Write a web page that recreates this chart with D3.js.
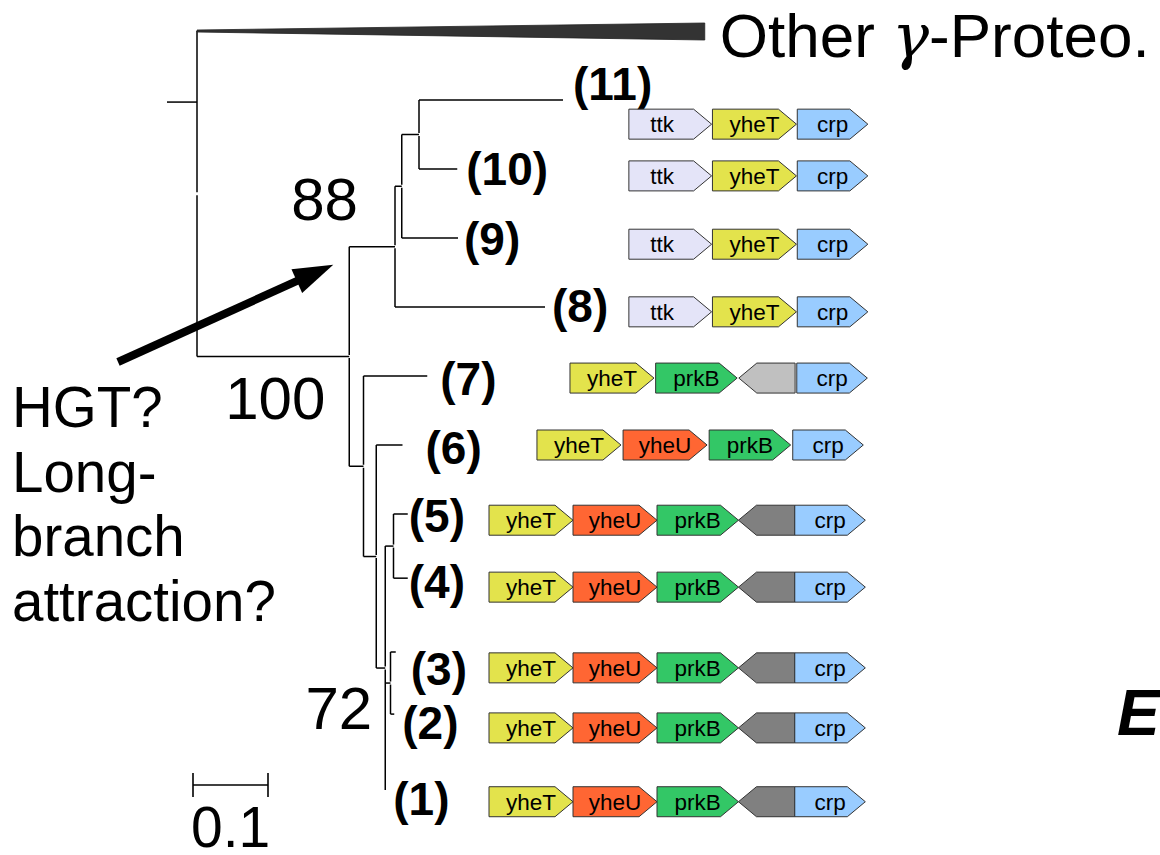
<!DOCTYPE html>
<html>
<head>
<meta charset="utf-8">
<script src="https://cdn.jsdelivr.net/npm/d3@7/dist/d3.min.js"></script>
<style>
  body { margin: 0; background: #fff; }
  text { font-family: "Liberation Sans", Arial, sans-serif; }
</style>
</head>
<body>
<svg id="fig" width="1160" height="855"></svg>
<script>
// ---- tree: parent table, branch lengths in substitutions/site ----
var nodeIds   = ["root","other","ingroup","A","A1","A2","(11)","(10)","(9)","(8)","B","(7)","B1","(6)","B2","B3","(5)","(4)","B4","(3)","(2)","(1)"];
var parentIds = ["","root","root","ingroup","A","A1","A2","A2","A1","A","ingroup","B","B","B1","B1","B2","B3","B3","B2","B4","B4","B2"];
var branchLen = [0,0.677,0.203,0.061,0.009,0.023,0.192,0.051,0.075,0.200,0.019,0.085,0.017,0.035,0.012,0.011,0.019,0.019,0.007,0.007,0.005,0];

var supportNodes  = ["A","ingroup","B2"];
var supportValues = [88,100,72];

// leaf rows (top to bottom)
var tipNames  = ["other","(11)","(10)","(9)","(8)","(7)","(6)","(5)","(4)","(3)","(2)","(1)"];
var tipRows   = [0,1,2,3,4,5,6,7,7.93,9,9.9,11];
var labelRows = [0,0.83,2.06,3.07,4.04,5.1,6.1,7.09,8.04,9.3,10.09,11.19];
var geneRows  = [0,1.35,2.1,3.09,4.07,5.03,6.0,7.09,8.06,9.23,10.1,11.17];

// ---- gene neighbourhoods ----
var operonGenes = [
  null,
  ["ttk","yheT","crp"],
  ["ttk","yheT","crp"],
  ["ttk","yheT","crp"],
  ["ttk","yheT","crp"],
  ["yheT","prkB","hypL","crp"],
  ["yheT","yheU","prkB","crp"],
  ["yheT","yheU","prkB","hyp","crp"],
  ["yheT","yheU","prkB","hyp","crp"],
  ["yheT","yheU","prkB","hyp","crp"],
  ["yheT","yheU","prkB","hyp","crp"],
  ["yheT","yheU","prkB","hyp","crp"]
];
var operonStart = [0,1.665,1.665,1.665,1.665,0.964,0.571,0,0,0,0,0];
var operonGap   = [0,0.01,0.01,0.01,0.01,0.02,0.025,0,0,0,0,0];
var geneNames   = ["ttk","yheT","yheU","prkB","hyp","hypL","crp"];
var geneLens    = [0.985,1.0,1.0,0.97,0.67,0.67,0.84];
var geneStrand  = [1,1,1,1,-1,-1,1];
var geneColors  = ["#e4e4f8","#e3e34c","#ff6633","#33c766","#808080","#c0c0c0","#99ccff"];
var geneLabels  = ["ttk","yheT","yheU","prkB","","","crp"];

var svg = d3.select("#fig");

var xScale = d3.scaleLinear().domain([0, 1]).range([197, 947]);
var yScale = d3.scaleLinear().domain([0, 11]).range([31, 790]);
var geneX  = d3.scaleLinear().domain([0, 1]).range([489, 573]);

var table = nodeIds.map(function(id,i){ return {id:id, parent:parentIds[i], len:branchLen[i]}; });
var root = d3.stratify().id(function(d){return d.id;}).parentId(function(d){return d.parent || null;})(table);

root.eachBefore(function(n){ n.dist = n.parent ? n.parent.dist + n.data.len : 0; });
root.eachAfter(function(n){
  if (n.children) {
    n.ry = (n.children[0].ry + n.children[n.children.length-1].ry) / 2;
  } else {
    n.ry = tipRows[tipNames.indexOf(n.id)];
  }
});
root.each(function(n){ n.px = xScale(n.dist); n.py = yScale(n.ry); });

var g = svg.append("g").attr("class","tree")
  .attr("stroke","#000").attr("stroke-width",1.5).attr("fill","none");

// horizontal branches
g.selectAll("line.h")
  .data(root.descendants().filter(function(n){ return n.parent && n.id !== "other"; }))
  .enter().append("line").attr("class","h")
  .attr("x1", function(n){ return n.parent.px; })
  .attr("x2", function(n){ return n.px; })
  .attr("y1", function(n){ return n.py; })
  .attr("y2", function(n){ return n.py; });

// vertical connectors, split where the stem attaches
var vsegs = [];
root.descendants().filter(function(n){ return n.children; }).forEach(function(n){
  var top = n.children[0].py, bot = n.children[n.children.length-1].py;
  vsegs.push({x:n.px, y1:top, y2:n.py - 1.5});
  vsegs.push({x:n.px, y1:n.py + 1.5, y2:bot});
});
g.selectAll("line.v").data(vsegs).enter().append("line").attr("class","v")
  .attr("x1", function(d){return d.x;}).attr("x2", function(d){return d.x;})
  .attr("y1", function(d){return d.y1;}).attr("y2", function(d){return d.y2;});

// root stub
g.append("line")
  .attr("x1", xScale(-0.04)).attr("x2", root.px)
  .attr("y1", yScale(1.03)).attr("y2", yScale(1.03));

// collapsed outgroup wedge
var other = root.children[0];
svg.append("path")
  .attr("d", "M" + root.px + "," + (other.py - 1) +
             "L" + other.px + "," + (other.py - 8) +
             "L" + other.px + "," + (other.py + 9) +
             "L" + root.px + "," + (other.py + 1) + "Z")
  .attr("fill","#333").attr("stroke","#222").attr("stroke-width",0.8);

var otherText = svg.append("text")
  .attr("x", other.px + 15).attr("y", other.py + 26)
  .attr("font-size", 62).attr("fill","#000");
otherText.append("tspan").text("Other ");
otherText.append("tspan").text("\u03b3")
  .attr("font-family","'DejaVu Serif', 'Liberation Serif', serif").attr("font-style","italic");
otherText.append("tspan").text("-Proteo.");

// leaf labels
var labelNudge = {"(11)":10,"(10)":9,"(9)":6,"(8)":7,"(7)":13,"(6)":23,"(5)":1,"(4)":1,"(3)":15,"(2)":8,"(1)":8};
svg.selectAll("text.leaf")
  .data(root.leaves().filter(function(n){ return n.id !== "other"; }))
  .enter().append("text").attr("class","leaf")
  .attr("x", function(n){ return n.px + labelNudge[n.id]; })
  .attr("y", function(n){ return yScale(labelRows[tipNames.indexOf(n.id)]) + 12; })
  .attr("font-size", 46).attr("font-weight","bold")
  .text(function(n){ return n.id; });

// bootstrap values
var supportNudge = {A:[-37,-27], ingroup:[-24,63], B2:[-13,61]};
supportNodes.forEach(function(id,i){
  var n = root.find(function(d){ return d.id === id; });
  svg.append("text")
    .attr("x", n.px + supportNudge[id][0]).attr("y", n.py + supportNudge[id][1])
    .attr("text-anchor","end").attr("font-size", 60)
    .text(supportValues[i]);
});

// gene arrows
var arrowH = 30, headL = 18;
function arrowPath(x0, x1, y, strand) {
  var h = arrowH/2, hl = Math.min(headL, x1 - x0);
  if (strand > 0) {
    return "M"+x0+","+(y-h)+"L"+(x1-hl)+","+(y-h)+"L"+x1+","+y+"L"+(x1-hl)+","+(y+h)+"L"+x0+","+(y+h)+"Z";
  }
  return "M"+x0+","+y+"L"+(x0+hl)+","+(y-h)+"L"+x1+","+(y-h)+"L"+x1+","+(y+h)+"L"+(x0+hl)+","+(y+h)+"Z";
}
var genes = [];
tipNames.forEach(function(t,i){
  if (!operonGenes[i]) return;
  var pos = operonStart[i];
  operonGenes[i].forEach(function(name){
    var k = geneNames.indexOf(name);
    genes.push({row:geneRows[i], s:pos, e:pos + geneLens[k], k:k});
    pos += geneLens[k] + operonGap[i];
  });
});
var gg = svg.append("g").attr("class","genes");
var ge = gg.selectAll("g").data(genes).enter().append("g");
ge.append("path")
  .attr("d", function(d){ return arrowPath(geneX(d.s), geneX(d.e), yScale(d.row), geneStrand[d.k]); })
  .attr("fill", function(d){ return geneColors[d.k]; })
  .attr("stroke","#333").attr("stroke-width",1);
ge.append("text")
  .attr("x", function(d){ return (geneX(d.s) + geneX(d.e))/2 + (geneNames[d.k] === "ttk" ? -8 : 0); })
  .attr("y", function(d){ return yScale(d.row) + 8; })
  .attr("text-anchor","middle").attr("font-size", 22.5).attr("fill","#000")
  .text(function(d){ return geneLabels[d.k]; });

// scale bar
var sbY = 785, sbX = 193;
var sbW = xScale(0.1) - xScale(0);
var sb = svg.append("g").attr("stroke","#000").attr("stroke-width",1.6);
sb.append("line").attr("x1",sbX).attr("x2",sbX+sbW).attr("y1",sbY).attr("y2",sbY);
sb.append("line").attr("x1",sbX).attr("x2",sbX).attr("y1",sbY-12).attr("y2",sbY+12);
sb.append("line").attr("x1",sbX+sbW).attr("x2",sbX+sbW).attr("y1",sbY-12).attr("y2",sbY+12);
svg.append("text").attr("x", sbX - 2).attr("y", 847)
  .attr("font-family","'DejaVu Sans', sans-serif").attr("font-size", 57)
  .text("0.1");

// annotation arrow pointing at the clade A stem
var ing = root.find(function(d){ return d.id === "ingroup"; });
var cladeA = root.find(function(d){ return d.id === "A"; });
var tip = [ing.px - 16, cladeA.py + 18];
var tail = [118, 362];
var ang = Math.atan2(tip[1]-tail[1], tip[0]-tail[0]);
var hL = 40, hW = 13;
var base = [tip[0] - hL*Math.cos(ang), tip[1] - hL*Math.sin(ang)];
svg.append("line").attr("x1",tail[0]).attr("y1",tail[1])
  .attr("x2",base[0] + 4*Math.cos(ang)).attr("y2",base[1] + 4*Math.sin(ang))
  .attr("stroke","#000").attr("stroke-width",8);
svg.append("path")
  .attr("d","M"+tip[0]+","+tip[1]+
            "L"+(base[0] - hW*Math.sin(ang))+","+(base[1] + hW*Math.cos(ang))+
            "L"+(base[0] + hW*Math.sin(ang))+","+(base[1] - hW*Math.cos(ang))+"Z")
  .attr("fill","#000");

// question text
var qLines = ["HGT?","Long-","branch","attraction?"];
svg.append("g").selectAll("text").data(qLines).enter().append("text")
  .attr("x", 12).attr("y", function(d,i){ return 427 + i*64.5; })
  .attr("font-size", 56.5).text(function(d){ return d; });

// clipped panel letter
svg.append("text").attr("x", 1117).attr("y", 735)
  .attr("font-size", 64).attr("font-weight","bold").attr("font-style","italic")
  .text("E");
</script>
</body>
</html>
